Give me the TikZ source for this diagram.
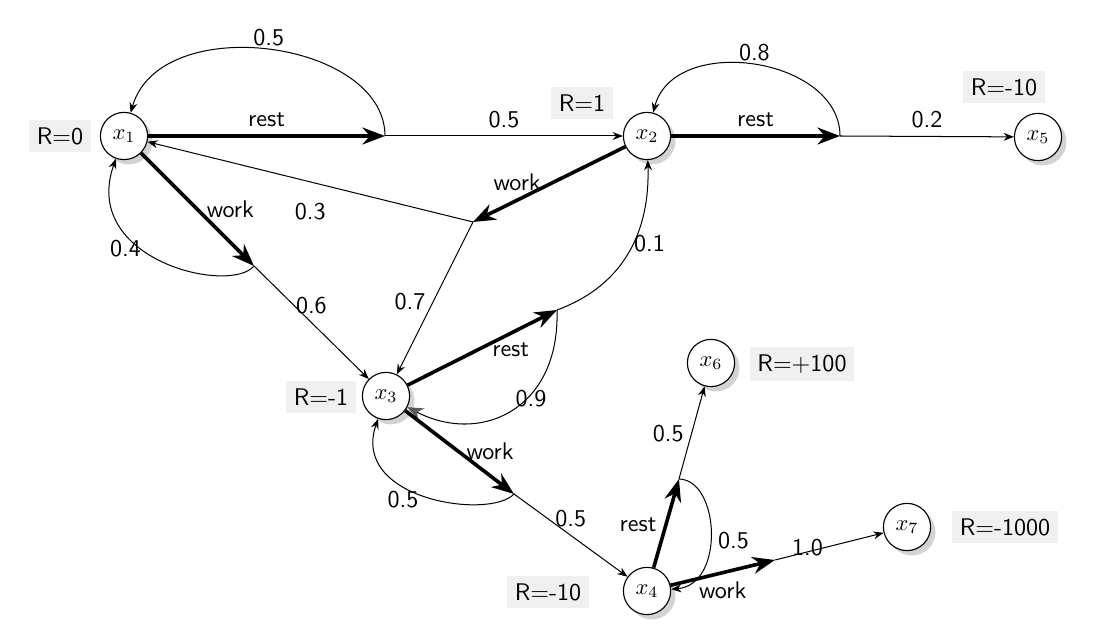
\documentclass[tikz,border=0pt]{standalone}
\usetikzlibrary{arrows.meta,shadows}
\begin{document}
\begin{tikzpicture}[x=0.015625cm,y=-0.015625cm,
  state/.style={circle,draw,fill=white,minimum size=21pt,inner sep=0pt,line width=0.5pt,drop shadow={opacity=0.35}},
  rbox/.style={fill=black!6,font=\sffamily\fontsize{10.7pt}{13pt}\selectfont},
  lab/.style={font=\sffamily\fontsize{10.7pt}{13pt}\selectfont},
  act/.style={line width=1.6pt,-{Stealth[length=10pt,width=7.5pt]}},
  prob/.style={line width=0.45pt,-{Stealth[length=4.5pt,width=3.5pt]}},
]
\useasboundingbox (0,0) rectangle (1116,628);
% states
\node[state] (x1) at (124,136) {$x_1$};
\node[state] (x2) at (647,136) {$x_2$};
\node[state] (x5) at (1038,137) {$x_5$};
\node[state] (x3) at (386,396) {$x_3$};
\node[state] (x6) at (711,363) {$x_6$};
\node[state] (x4) at (647,591) {$x_4$};
\node[state] (x7) at (907,527) {$x_7$};
% rewards
\node[rbox] (r1) at (60,136) {R=0};
\node[rbox] (r2) at (582,103) {R=1};
\node[rbox] (r5) at (1004,87) {R=-10};
\node[rbox] (r3) at (321,397) {R=-1};
\node[rbox] (r6) at (802,364) {R=+100};
\node[rbox] (r4) at (548,592) {R=-10};
\node[rbox] (r7) at (1005,527) {R=-1000};
% action points
\coordinate (a1) at (385,136);
\coordinate (a2) at (254,266);
\coordinate (a3) at (840,136);
\coordinate (a4) at (473,222);
\coordinate (a5) at (557,310);
\coordinate (a6) at (514,494);
\coordinate (a7) at (679,479);
\coordinate (a8) at (775,560);
% x1
\draw[act] (x1) -- node[lab,above]{rest} (a1);
\draw[prob] (a1) -- node[lab,above]{0.5} (x2);
\draw[prob] (a1) .. controls (385,40) and (160,10) .. (x1) node[lab,pos=0.5,above=-2pt]{0.5};
\draw[act] (x1) -- node[lab,right]{work} (a2);
\draw[prob] (a2) -- node[lab,above]{0.6} (x3);
\draw[prob] (a2) .. controls (230,295) and (80,260) .. (x1) node[lab,pos=0.6,left=-3pt]{0.4};
% x2
\draw[act] (x2) -- node[lab,above]{rest} (a3);
\draw[prob] (a3) -- node[lab,above]{0.2} (x5);
\draw[prob] (a3) .. controls (840,57) and (674,33) .. (x2) node[lab,pos=0.5,above=-2pt]{0.8};
\draw[act] (x2) -- node[lab,pos=0.71,above]{work} (a4);
\draw[prob] (a4) -- node[lab,pos=0.5,below=6pt]{0.3} (x1);
\draw[prob] (a4) -- node[lab,pos=0.52,left]{0.7} (x3);
% x3
\draw[act] (x3) -- node[lab,pos=0.69,below]{rest} (a5);
\draw[prob] (a5) .. controls (625,285) and (650,230) .. (x2) node[lab,pos=0.55,right=-3pt]{0.1};
\draw[line width=0.45pt,-{Stealth[length=7pt,width=6pt,color=black!65]}] (a5) .. controls (560,410) and (480,445) .. (x3) node[lab,pos=0.4,xshift=2pt]{0.9};
\draw[act] (x3) -- node[lab,pos=0.78,above=3pt]{work} (a6);
\draw[prob] (a6) -- node[lab,pos=0.5,above]{0.5} (x4);
\draw[prob] (a6) .. controls (490,520) and (350,500) .. (x3) node[lab,pos=0.55,xshift=-6pt,yshift=-3pt]{0.5};
% x4
\draw[act] (x4) -- node[lab,pos=0.48,left]{rest} (a7);
\draw[prob] (a7) -- node[lab,pos=0.49,left]{0.5} (x6);
\draw[prob] (a7) .. controls (720,480) and (725,585) .. (x4) node[lab,pos=0.55,right]{0.5};
\draw[act] (x4) -- node[lab,pos=0.5,below]{work} (a8);
\draw[prob] (a8) -- node[lab,pos=0.3,yshift=2pt]{1.0} (x7);
\end{tikzpicture}
\end{document}
